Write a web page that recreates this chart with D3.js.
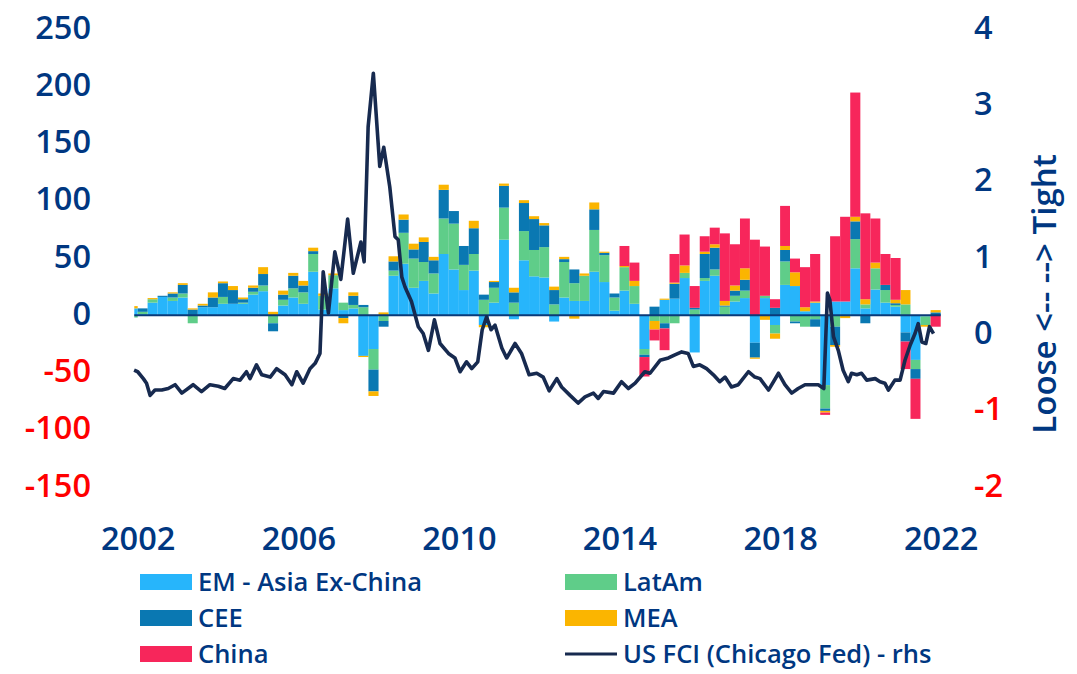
<!DOCTYPE html>
<html>
<head>
<meta charset="utf-8">
<script src="https://cdn.jsdelivr.net/npm/d3@7"></script>
<style>
  body { margin: 0; background: #fff; }
  text { font-family: "Open Sans", sans-serif; font-weight: 600; }
</style>
</head>
<body>
<svg id="chart" width="1077" height="674"></svg>
<script>
// quarterly flows (first quarter only shows its last month)
var quarters = ["2001Q4",
  "2002Q1","2002Q2","2002Q3","2002Q4","2003Q1","2003Q2","2003Q3","2003Q4",
  "2004Q1","2004Q2","2004Q3","2004Q4","2005Q1","2005Q2","2005Q3","2005Q4",
  "2006Q1","2006Q2","2006Q3","2006Q4","2007Q1","2007Q2","2007Q3","2007Q4",
  "2008Q1","2008Q2","2008Q3","2008Q4","2009Q1","2009Q2","2009Q3","2009Q4",
  "2010Q1","2010Q2","2010Q3","2010Q4","2011Q1","2011Q2","2011Q3","2011Q4",
  "2012Q1","2012Q2","2012Q3","2012Q4","2013Q1","2013Q2","2013Q3","2013Q4",
  "2014Q1","2014Q2","2014Q3","2014Q4","2015Q1","2015Q2","2015Q3","2015Q4",
  "2016Q1","2016Q2","2016Q3","2016Q4","2017Q1","2017Q2","2017Q3","2017Q4",
  "2018Q1","2018Q2","2018Q3","2018Q4","2019Q1","2019Q2","2019Q3","2019Q4",
  "2020Q1","2020Q2","2020Q3","2020Q4","2021Q1","2021Q2","2021Q3","2021Q4"];

var asia = [6, 1, 11, 16, 12.5, 15.5, 0, 7, 7, 10, 10, 10, 18, 21, 0, 8.5, 15.5, 10, 38, 5,
  23.5, 4.5, 6, -35.5, -29.5, 0, 34.5, 45, 24, 30, 19, 53.5, 40, 22, 39, -8.5, 11, 66, -3.5, 48,
  34, 33, -5.5, 15.5, 12.5, 12.5, 38, 29, 4, 21.5, 10, -29.5, 0, 13.5, 14.5, 32.5, -32.5, 30, 34.5, 0,
  12, 15, -24, 15, -8.5, 26.5, 25.5, 3.5, 11, -61, 12, 12, 41, 6, 22.5, 11, 7.5, -15, -39, -1, 0];
var latam = [-2, 2, 3, 0, 3, 3.5, -7, 0, 0, 6, 0, 1, 2.5, 5, -7, 5, 8, 10, 15.5, 12,
  11.5, 6.5, 3, 7, -18, -5, 4.5, 27, 25.5, 16.5, 17.5, 31, 40, 22, 14.5, 13.5, 13, 28, 11, 25.5,
  23, 26.5, 9.5, 31, 15.5, 22, 36.5, 23.5, 11.5, 20.5, 15.5, -5, -5, -7, -7, 4.5, 5, 2.5, 5.5, 7.5,
  5, 6.5, 0, 2, -7.5, 20.5, -5.5, -10, -3.5, -20.5, -10, 0, 25.5, 3.5, 18.5, 11, 1.5, 9.5, -8, -7.5, 0];
var cee = [0, 3, 0, 1, 3.5, 7.5, 5, 1.5, 8.5, 12, 12, 3, 3.5, 10, -7, 4.5, 11, 6, 2.5, 0,
  0, -2.5, 8, 2, -19, -5, 8, 11.5, 8, 17.5, 11.5, 25, 11, 16.5, 22.5, 4.5, 5, 19, 9, 24.5,
  27, 19, 12.5, 2.5, 12, 0, 18, 2, 3.5, 0, 0, -2, 7.5, -4.5, 13, 0, 1.5, 21, 19, 1,
  4.5, 9.5, -13, 0, 6.5, 10, -1.5, 0, -6.5, -2, -16, 0, 15.5, -7, 0, 4.5, 1.5, -8, -8.5, 0, 2.5];
var mea = [2, 0, 1, 0, 1, 1.5, 1, 1.5, 4.5, 1.5, 3.5, 1.5, 2, 6, 3, 3.5, 2.5, 4, 3, 2,
  1.5, -4.5, 3, -1, -4, 2.5, 4.5, 4.5, 5, 4, 3, 4.5, 0, 0, 6.5, -2, 1, 2, 4, 2.5,
  2.5, 2, 3, 2, -3, 2, 6, 1, 0, 1, 4.5, 0, -7.5, 1, 1, 6.5, 0, 2, 3, 4,
  4.5, 10, -1, -4, -4.5, 3.5, 12, 3.5, 1, -1.5, -1.5, -2.5, 4, 4.5, 5, 0, 3, 12.5, 0, -1.5, 2];
var china = [0, 0, 0, 0, 0, 0, 0, 0, 0, 0, 0, 0, 0, 0, 0, 0, 0, 0, 0, 0,
  0, 0, 0, 0, 0, 0, 0, 0, 0, 0, 0, 0, 0, 0, 0, 0, 0, 0, 0, 0,
  0, 0, 0, 0, 0, 0, 0, 0, 0, 17.5, 16, -17, -9.5, -19, 25, 27, 19, 13.5, 14.5, 59,
  36, 43.5, 66, 43, 7.5, 35, 12, 35, 41.5, -2, 57, 74, 108.5, 75, 38.5, 27, 36.5, -24, -35, 0, -10];

// US FCI (Chicago Fed), rhs
var fciYear = [2001.91, 2002.00, 2002.14, 2002.22, 2002.31, 2002.43, 2002.60, 2002.76, 2002.93, 2003.10,
  2003.38, 2003.59, 2003.80, 2004.01, 2004.17, 2004.38, 2004.55, 2004.71, 2004.80, 2004.96,
  2005.09, 2005.30, 2005.46, 2005.67, 2005.84, 2005.96, 2006.12, 2006.29, 2006.42, 2006.54,
  2006.62, 2006.75, 2006.91, 2007.06, 2007.23, 2007.37, 2007.56, 2007.64, 2007.74, 2007.87,
  2008.03, 2008.13, 2008.28, 2008.41, 2008.49, 2008.58, 2008.66, 2008.82, 2008.99, 2009.11,
  2009.24, 2009.39, 2009.53, 2009.74, 2009.90, 2010.03, 2010.19, 2010.32, 2010.47, 2010.58,
  2010.69, 2010.80, 2010.90, 2011.07, 2011.19, 2011.40, 2011.56, 2011.75, 2011.94, 2012.10,
  2012.25, 2012.44, 2012.56, 2012.77, 2012.97, 2013.14, 2013.35, 2013.47, 2013.60, 2013.85,
  2014.05, 2014.22, 2014.39, 2014.63, 2014.76, 2015.01, 2015.22, 2015.38, 2015.55, 2015.71,
  2015.84, 2016.00, 2016.17, 2016.34, 2016.50, 2016.63, 2016.79, 2016.96, 2017.21, 2017.37,
  2017.50, 2017.71, 2017.96, 2018.12, 2018.29, 2018.45, 2018.62, 2018.79, 2018.95, 2019.09,
  2019.18, 2019.24, 2019.33, 2019.45, 2019.57, 2019.70, 2019.78, 2019.91, 2020.03, 2020.16,
  2020.37, 2020.49, 2020.61, 2020.70, 2020.86, 2020.99, 2021.11, 2021.24, 2021.36, 2021.44,
  2021.53, 2021.63, 2021.72, 2021.82];
var fciValue = [-0.47, -0.49, -0.58, -0.64, -0.80, -0.73, -0.73, -0.71, -0.66, -0.77,
  -0.66, -0.75, -0.66, -0.68, -0.71, -0.58, -0.60, -0.49, -0.58, -0.40,
  -0.53, -0.56, -0.45, -0.53, -0.66, -0.49, -0.64, -0.45, -0.38, -0.25,
  0.82, 0.28, 1.08, 0.72, 1.51, 0.80, 1.21, 0.95, 2.72, 3.42,
  2.20, 2.45, 1.93, 1.28, 1.24, 0.75, 0.62, 0.43, 0.10, 0.01,
  -0.21, 0.19, -0.12, -0.25, -0.31, -0.49, -0.36, -0.45, -0.36, 0.06,
  0.23, 0.06, 0.12, -0.18, -0.31, -0.12, -0.25, -0.53, -0.51, -0.56,
  -0.74, -0.58, -0.69, -0.80, -0.90, -0.82, -0.77, -0.84, -0.75, -0.77,
  -0.62, -0.71, -0.64, -0.49, -0.51, -0.34, -0.31, -0.27, -0.23, -0.25,
  -0.42, -0.40, -0.45, -0.53, -0.62, -0.56, -0.69, -0.66, -0.49, -0.56,
  -0.58, -0.73, -0.51, -0.66, -0.77, -0.71, -0.66, -0.66, -0.66, -0.71,
  0.54, 0.45, -0.03, -0.21, -0.47, -0.62, -0.51, -0.53, -0.51, -0.60,
  -0.58, -0.62, -0.64, -0.73, -0.60, -0.60, -0.34, -0.14, 0.01, 0.14,
  -0.10, -0.12, 0.10, 0.01];

var yearTicks = [2002, 2006, 2010, 2014, 2018, 2022];
var leftTicks = [-150, -100, -50, 0, 50, 100, 150, 200, 250];
var rightTicks = [-2, -1, 0, 1, 2, 3, 4];
var seriesKeys = ["asia", "latam", "cee", "mea", "china"];
var legendLabels = ["EM - Asia Ex-China", "LatAm", "CEE", "MEA", "China", "US FCI (Chicago Fed) - rhs"];

var colors = {asia: "#27b5fb", latam: "#5fcd89", cee: "#0a78b2", mea: "#fbb500", china: "#f7265b"};
var navy = "#003781", lineColor = "#172a4f", negColor = "#ff0000";

var svg = d3.select("#chart");

var dataStart = new Date(2001, 11, 1);
var x = d3.scaleTime()
    .domain([new Date(2002, 0, 1), new Date(2022, 0, 1)])
    .range([137.7, 940.7]);
var yL = d3.scaleLinear().domain([-150, 250]).range([487, 29]);
var yR = d3.scaleLinear().domain([-2, 4]).range([487, 29]);

function quarterStart(q) {
    var yr = +q.slice(0, 4), n = +q.slice(5);
    return new Date(yr, (n - 1) * 3, 1);
}
function yearToDate(t) {
    var yr = Math.floor(t);
    return new Date(new Date(yr, 0, 1).getTime() + (t - yr) * 365.25 * 864e5);
}

var table = quarters.map(function(q, i) {
    var s = quarterStart(q);
    return {
        start: s < dataStart ? dataStart : s,
        end: d3.timeMonth.offset(s, 3),
        asia: asia[i], latam: latam[i], cee: cee[i], mea: mea[i], china: china[i]
    };
});

var stack = d3.stack().keys(seriesKeys).offset(d3.stackOffsetDiverging);
var layers = stack(table);

svg.append("g").selectAll("g")
    .data(layers)
    .enter()
    .append("g")
    .attr("fill", function(d) { return colors[d.key]; })
    .selectAll("rect")
    .data(function(d) { return d; })
    .enter()
    .append("rect")
    .attr("x", function(d) { return x(d.data.start); })
    .attr("width", function(d) { return x(d.data.end) - x(d.data.start); })
    .attr("y", function(d) { return yL(Math.max(d[0], d[1])); })
    .attr("height", function(d) { return Math.abs(yL(d[0]) - yL(d[1])); });

// zero line
svg.append("line")
    .attr("x1", x(dataStart))
    .attr("x2", x(new Date(2022, 0, 1)))
    .attr("y1", yL(0))
    .attr("y2", yL(0))
    .attr("stroke", "#0b3a78")
    .attr("stroke-width", 2);

// FCI line
var fci = fciYear.map(function(t, i) { return {date: yearToDate(t), value: fciValue[i]}; });
var line = d3.line()
    .x(function(d) { return x(d.date); })
    .y(function(d) { return yR(d.value); });

svg.append("path")
    .datum(fci)
    .attr("fill", "none")
    .attr("stroke", lineColor)
    .attr("stroke-width", 3.6)
    .attr("stroke-linejoin", "round")
    .attr("d", line);

// axes
var plainNumber = function(d) { return String(d); };

var leftAxis = svg.append("g")
    .attr("transform", "translate(99,0)")
    .call(d3.axisLeft(yL).tickValues(leftTicks).tickFormat(plainNumber).tickSize(0).tickPadding(8));
leftAxis.select(".domain").remove();
leftAxis.selectAll("text")
    .style("font-family", "'Open Sans', sans-serif")
    .style("font-weight", 600)
    .attr("font-size", 32.5)
    .attr("dy", "0.28em")
    .attr("fill", function(d) { return d < 0 ? negColor : navy; });

var rightAxis = svg.append("g")
    .attr("transform", "translate(966,0)")
    .call(d3.axisRight(yR).tickValues(rightTicks).tickFormat(plainNumber).tickSize(0).tickPadding(8));
rightAxis.select(".domain").remove();
rightAxis.selectAll("text")
    .style("font-family", "'Open Sans', sans-serif")
    .style("font-weight", 600)
    .attr("font-size", 32.5)
    .attr("dy", "0.28em")
    .attr("fill", function(d) { return d < 0 ? negColor : navy; });

var bottomAxis = svg.append("g")
    .attr("transform", "translate(0,521)")
    .call(d3.axisBottom(x)
        .tickValues(yearTicks.map(function(y) { return new Date(y, 0, 1); }))
        .tickFormat(d3.timeFormat("%Y"))
        .tickSize(0).tickPadding(0));
bottomAxis.select(".domain").remove();
bottomAxis.selectAll("text")
    .style("font-family", "'Open Sans', sans-serif")
    .style("font-weight", 600)
    .attr("font-size", 32.5)
    .attr("dy", "0.9em")
    .attr("fill", navy);

svg.append("text")
    .attr("transform", "translate(1056,294) rotate(-90)")
    .attr("text-anchor", "middle")
    .attr("font-size", 33)
    .attr("fill", navy)
    .text("Loose <-- --> Tight");

// legend
var legendItems = [
    {label: legendLabels[0], key: "asia", x: 140, y: 582},
    {label: legendLabels[1], key: "latam", x: 565, y: 582},
    {label: legendLabels[2], key: "cee", x: 140, y: 618},
    {label: legendLabels[3], key: "mea", x: 565, y: 618},
    {label: legendLabels[4], key: "china", x: 140, y: 654},
    {label: legendLabels[5], key: "fci", x: 565, y: 654}
];
var legend = svg.append("g").selectAll("g")
    .data(legendItems)
    .enter()
    .append("g")
    .attr("transform", function(d) { return "translate(" + d.x + "," + d.y + ")"; });

legend.filter(function(d) { return d.key !== "fci"; })
    .append("rect")
    .attr("x", 0).attr("y", -8)
    .attr("width", 52).attr("height", 16)
    .attr("fill", function(d) { return colors[d.key]; });

legend.filter(function(d) { return d.key === "fci"; })
    .append("line")
    .attr("x1", 0).attr("x2", 52)
    .attr("stroke", lineColor)
    .attr("stroke-width", 3);

legend.append("text")
    .attr("x", 58)
    .attr("dy", "0.36em")
    .attr("font-size", 25.5)
    .attr("fill", navy)
    .text(function(d) { return d.label; });
</script>
</body>
</html>
